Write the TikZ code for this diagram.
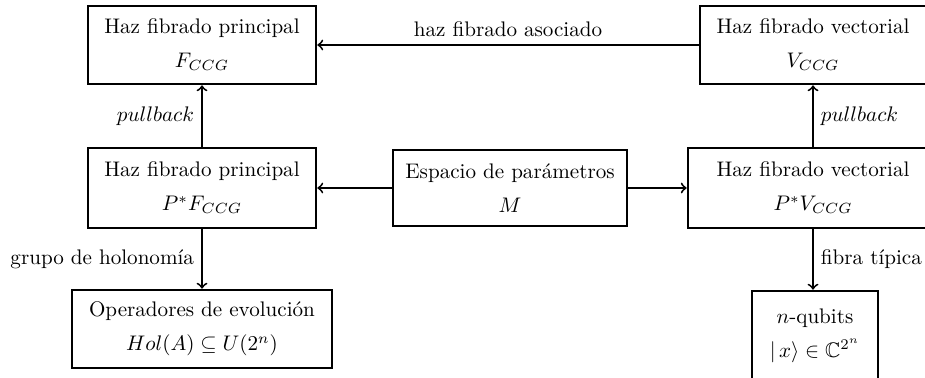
\documentclass[tikz,border=0pt]{standalone}
\usepackage{amsmath,amssymb}
\begin{document}
\begin{tikzpicture}[x=0.474pt,y=-0.474pt,
  box/.style={draw,line width=1.2pt,rectangle,align=center,inner sep=0pt},
  arr/.style={->,line width=0.9pt},
  lbl/.style={font=\normalsize}]
\useasboundingbox (0,0) rectangle (925,378);
\clip (0,0) rectangle (925,378);
\node[box,minimum width=108.1pt,minimum height=37pt] (A) at (202,45) {Haz fibrado principal\\[4pt]$F_{CCG}$};
\node[box,minimum width=107.1pt,minimum height=37pt] (B) at (813,45) {Haz fibrado vectorial\\[4pt]$V_{CCG}$};
\node[box,minimum width=108.1pt,minimum height=37.9pt] (C) at (202,188) {Haz fibrado principal\\[4pt]$P^{*}F_{CCG}$};
\node[box,minimum width=110.9pt,minimum height=36pt] (D) at (510,188) {Espacio de par\'ametros\\[4pt]$M$};
\node[box,minimum width=118.5pt,minimum height=37.9pt] (E) at (813,188) {Haz fibrado vectorial\\[4pt]$P^{*}V_{CCG}$};
\node[box,minimum width=123.2pt,minimum height=37pt] (F) at (202,329) {Operadores de evoluci\'on\\[4pt]$Hol(A)\subseteq U(2^{n})$};
\node[box,minimum width=59.7pt,minimum height=42.7pt] (G) at (815,336) {$n$-qubits\\[4pt]$|\,x\rangle\in\mathbb{C}^{2^{n}}$};
\draw[arr] (B.west) -- node[above,lbl] {haz fibrado asociado} (A.east);
\draw[arr] (C.north) -- node[left,lbl] {$pullback$} (A.south);
\draw[arr] (E.north) -- node[right,lbl] {$pullback$} (B.south);
\draw[arr] (D.west) -- (C.east);
\draw[arr] (D.east) -- (E.west);
\draw[arr] (C.south) -- node[left,lbl] {grupo de holonom\'ia} (F.north);
\draw[arr] (E.south) -- node[right,lbl] {fibra t\'ipica} (E.south |- G.north);
\end{tikzpicture}
\end{document}
